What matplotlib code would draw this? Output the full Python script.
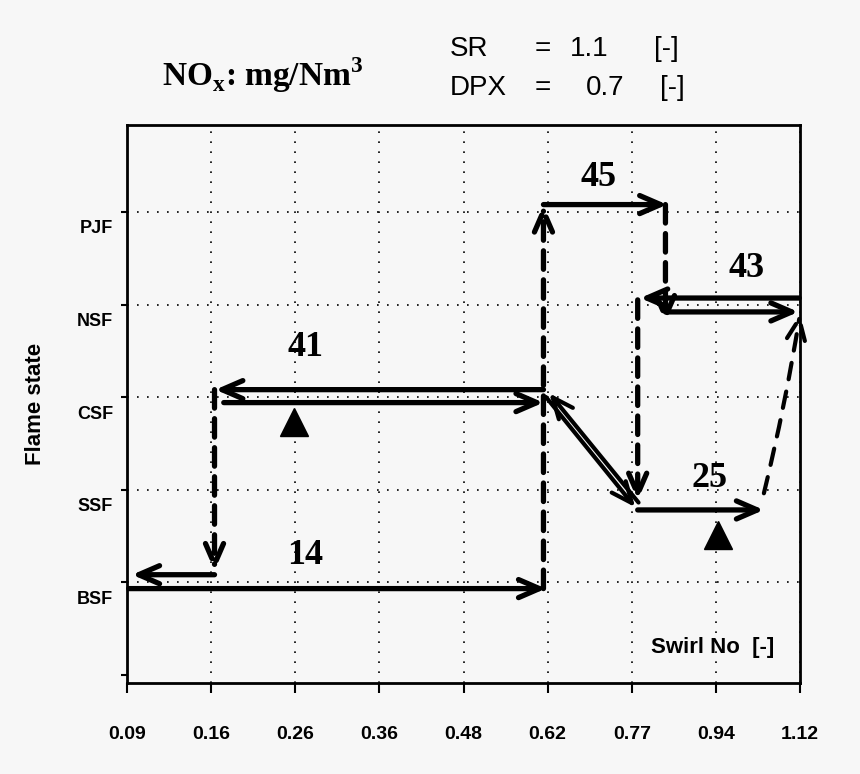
'''
Flame state vs swirl number, NOx map
'''

import matplotlib.pyplot as plt
import matplotlib.transforms as mtransforms

# Swirl numbers (equally spaced categories) and flame states
swirl = ["0.09", "0.16", "0.26", "0.36", "0.48", "0.62", "0.77", "0.94", "1.12"]
states = ["", "BSF", "SSF", "CSF", "NSF", "PJF"]

# solid transitions (x0, y0) -> (x1, y1) in (swirl index, state level)
solid_start = [(0.02, 0.93), (1.04, 1.08), (4.95, 3.08), (1.15, 2.94),
               (4.95, 5.08), (7.99, 4.07), (6.40, 3.92), (6.07, 1.78)]
solid_end = [(4.98, 0.93), (0.06, 1.08), (1.05, 3.08), (4.95, 2.94),
             (6.42, 5.08), (6.10, 4.07), (7.98, 3.92), (7.57, 1.78)]

# the CSF -> SSF diagonal, drawn as a pair
diag_start = [(4.98, 3.00), (6.08, 1.86)]
diag_end = [(6.04, 1.81), (5.02, 3.04)]

# dashed jumps
dash_start = [(1.04, 3.08), (4.95, 0.93), (6.40, 5.08), (6.07, 4.05)]
dash_end = [(1.04, 1.12), (4.95, 5.08), (6.40, 3.80), (6.07, 1.88)]

# NOx values and where they sit
nox = ["14", "41", "45", "43", "25"]
nox_x = [2.12, 2.12, 5.61, 7.36, 6.92]
nox_y = [1.29, 3.54, 5.37, 4.39, 2.12]

# operating point markers
mark_x = [1.99, 7.02]
mark_y = [2.73, 1.51]

bg = "#f7f7f7"
fig = plt.figure(figsize=(8.6, 7.74), dpi=100, facecolor=bg)
ax = fig.add_axes([0.1477, 0.1176, 0.7826, 0.7209], facecolor=bg)

ax.set_xlim(0, 8.0)
ax.set_ylim(-0.09, 5.94)
ax.set_xticks(range(len(swirl)))
ax.set_xticklabels(swirl, fontsize=14, fontweight="bold", family="Liberation Sans")
ax.set_yticks(range(len(states)))
ax.set_yticklabels(states, fontsize=13, fontweight="bold", family="Liberation Sans")
ax.tick_params(axis="x", direction="out", length=7, width=1.5, pad=24)
ax.tick_params(axis="y", direction="out", length=4, width=1.5, pad=6)
for lab in ax.get_yticklabels():
    lab.set_transform(lab.get_transform() +
                      mtransforms.ScaledTranslation(0, -0.15, fig.dpi_scale_trans))

for s in ax.spines.values():
    s.set_linewidth(2)

# dotted grid
for i in range(1, len(swirl)):
    ax.axvline(i, color="black", lw=1.2, ls=(0, (1, 5)), zorder=1)
for k in range(1, len(states)):
    ax.axhline(k, color="black", lw=1.2, ls=(0, (1, 5)), zorder=1)

ax.set_ylabel("Flame state", fontsize=16, fontweight="bold", family="Liberation Sans")
ax.yaxis.set_label_coords(-0.12, 0.5)

head = "->,head_length=1.5,head_width=0.65"
for p0, p1 in zip(solid_start, solid_end):
    ax.annotate("", xy=p1, xytext=p0, annotation_clip=False,
                arrowprops=dict(arrowstyle=head, color="black", lw=3.8,
                                shrinkA=0, shrinkB=0))

for p0, p1 in zip(diag_start, diag_end):
    ax.annotate("", xy=p1, xytext=p0, annotation_clip=False,
                arrowprops=dict(arrowstyle=head, color="black", lw=3.0,
                                shrinkA=0, shrinkB=0))

for p0, p1 in zip(dash_start, dash_end):
    ax.annotate("", xy=p1, xytext=p0, annotation_clip=False,
                arrowprops=dict(arrowstyle=head, color="black", lw=3.8,
                                ls=(0, (3.5, 2)), shrinkA=0, shrinkB=0))

# dashed return from SSF to NSF
ax.annotate("", xy=(8.0, 3.90), xytext=(7.57, 1.96), annotation_clip=False,
            arrowprops=dict(arrowstyle=head, color="black", lw=3.0,
                            ls=(0, (4, 3)), shrinkA=0, shrinkB=0,
                            connectionstyle="arc3,rad=0.02"))

ax.plot(mark_x, mark_y, "^", color="black", ms=20, zorder=5)

for t, x, y in zip(nox, nox_x, nox_y):
    ax.text(x, y, t, fontsize=26, fontweight="bold", family="Liberation Serif",
            ha="center", va="center")

ax.text(6.96, 0.29, "Swirl No  [-]", fontsize=16, fontweight="bold",
        family="Liberation Sans", ha="center", va="center")

fig.text(0.305, 0.903, r"NO$_\mathregular{x}$: mg/Nm$^\mathregular{3}$",
         fontsize=24, fontweight="bold", family="Liberation Serif",
         ha="center", va="center")

sans = dict(fontsize=20, family="Liberation Sans", va="center")
fig.text(0.523, 0.937, "SR", **sans)
fig.text(0.523, 0.886, "DPX", **sans)
fig.text(0.622, 0.937, "=", **sans)
fig.text(0.622, 0.886, "=", **sans)
fig.text(0.663, 0.937, "1.1", **sans)
fig.text(0.681, 0.886, "0.7", **sans)
fig.text(0.760, 0.937, "[-]", **sans)
fig.text(0.768, 0.886, "[-]", **sans)

fig.savefig("out.png", dpi=100, facecolor=bg)
